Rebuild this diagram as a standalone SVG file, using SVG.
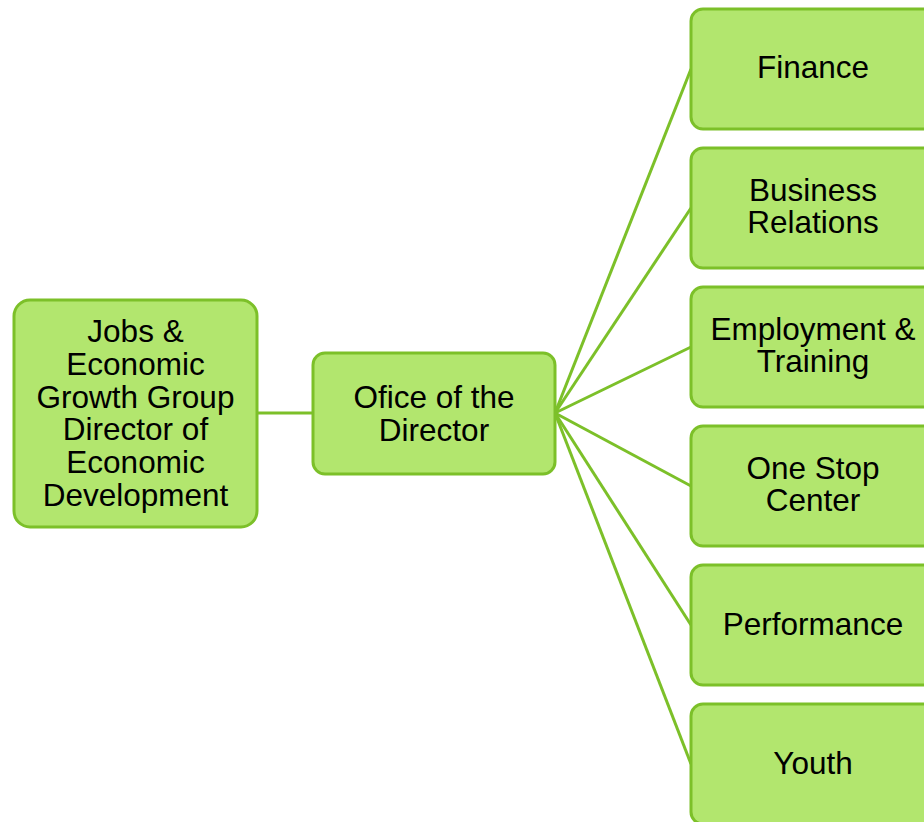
<svg xmlns="http://www.w3.org/2000/svg" width="924" height="822" viewBox="0 0 924 822">
<style>
.box{fill:#b2e66e;stroke:#7cc029;stroke-width:3}
.lbl{font-family:"Liberation Sans",Arial,sans-serif;font-size:31.5px;fill:#000;text-anchor:middle}
.con{stroke:#7cc029;stroke-width:3;fill:none}
</style>
<rect width="924" height="822" fill="#fff"/>
<g id="connectors">
<line class="con" x1="257" y1="413" x2="313" y2="413"/>
<line class="con" x1="555" y1="413" x2="691" y2="69"/>
<line class="con" x1="555" y1="413" x2="691" y2="208"/>
<line class="con" x1="555" y1="413" x2="691" y2="347"/>
<line class="con" x1="555" y1="413" x2="691" y2="486"/>
<line class="con" x1="555" y1="413" x2="691" y2="625"/>
<line class="con" x1="555" y1="413" x2="691" y2="764"/>
</g>
<g id="jobs">
<rect class="box" x="14" y="300" width="243" height="227" rx="16"/>
<text class="lbl" x="135.5" y="342">Jobs &amp;</text>
<text class="lbl" x="135.5" y="375">Economic</text>
<text class="lbl" x="135.5" y="408">Growth Group</text>
<text class="lbl" x="135.5" y="440">Director of</text>
<text class="lbl" x="135.5" y="473">Economic</text>
<text class="lbl" x="135.5" y="506">Development</text>
</g>
<g id="office">
<rect class="box" x="313" y="353" width="242" height="121" rx="12"/>
<text class="lbl" x="434" y="408">Ofice of the</text>
<text class="lbl" x="434" y="441">Director</text>
</g>
<g id="finance">
<rect class="box" x="691" y="9" width="245" height="120" rx="12"/>
<text class="lbl" x="813" y="78">Finance</text>
</g>
<g id="business">
<rect class="box" x="691" y="148" width="245" height="120" rx="12"/>
<text class="lbl" x="813" y="201">Business</text>
<text class="lbl" x="813" y="233">Relations</text>
</g>
<g id="employment">
<rect class="box" x="691" y="287" width="245" height="120" rx="12"/>
<text class="lbl" x="813" y="340">Employment &amp;</text>
<text class="lbl" x="813" y="372">Training</text>
</g>
<g id="onestop">
<rect class="box" x="691" y="426" width="245" height="120" rx="12"/>
<text class="lbl" x="813" y="479">One Stop</text>
<text class="lbl" x="813" y="511">Center</text>
</g>
<g id="performance">
<rect class="box" x="691" y="565" width="245" height="120" rx="12"/>
<text class="lbl" x="813" y="635">Performance</text>
</g>
<g id="youth">
<rect class="box" x="691" y="704" width="245" height="120" rx="12"/>
<text class="lbl" x="813" y="774">Youth</text>
</g>
</svg>
